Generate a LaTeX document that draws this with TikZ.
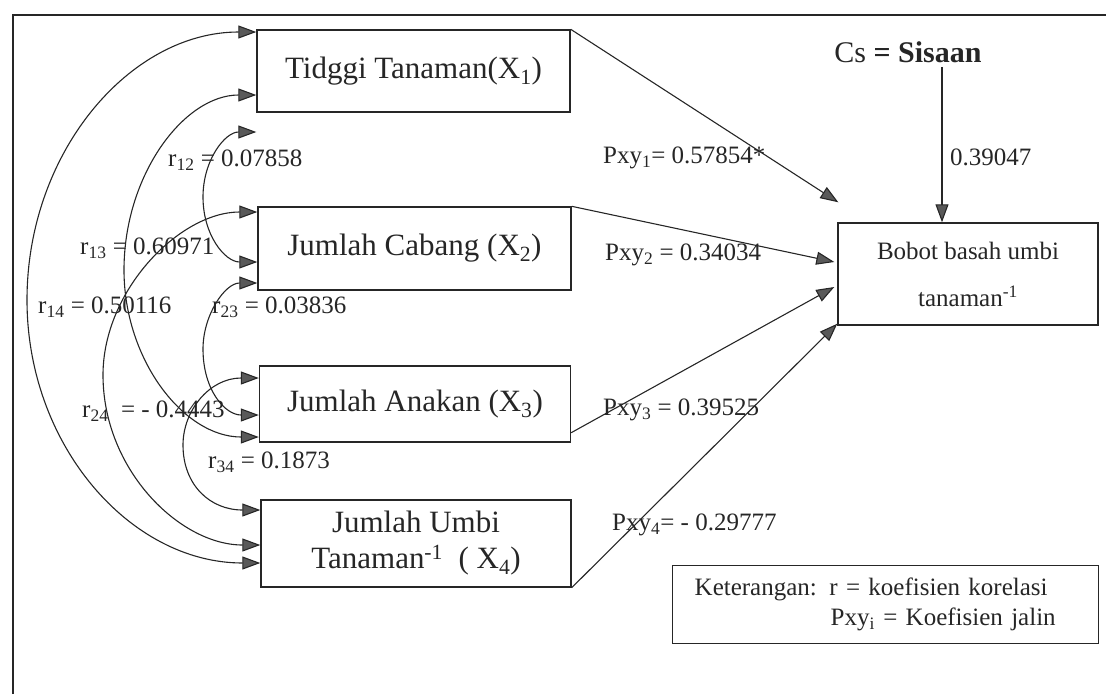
\documentclass[tikz,border=0pt]{standalone}
\usepackage{fontspec}
\setmainfont{Liberation Serif}
\usetikzlibrary{arrows.meta,calc}
\begin{document}
\begin{tikzpicture}[x=1pt,y=-1pt,
  box/.style={draw=black!85, line width=1.4pt, rectangle, inner sep=0pt, font=\fontsize{31}{36}\selectfont, align=center, text=black!85},
  lbl/.style={inner sep=0pt, font=\fontsize{25}{30}\selectfont, anchor=west, text=black!85},
  corr/.style={line width=1.1pt, draw=black!85, {Triangle[length=18pt,width=13pt,fill=black!65]}-{Triangle[length=18pt,width=13pt,fill=black!65]}},
  pathar/.style={line width=1.1pt, draw=black!85, -{Triangle[length=18pt,width=13pt,fill=black!65]}},
  frame/.style={line width=1.8pt, draw=black!85}
]
\useasboundingbox (0,0) rectangle (1106,694);
\draw[frame] (13,694) -- (13,15) -- (1106,15);

% boxes
\node[box, minimum width=313pt, minimum height=82pt] (x1) at (413.5,71) {Tidggi Tanaman(X\textsubscript{1})};
\node[box, minimum width=313pt, minimum height=83pt] (x2) at (414.5,248.5) {Jumlah Cabang (X\textsubscript{2})};
\node[box, minimum width=311pt, minimum height=76pt] (x3) at (415,404) {Jumlah Anakan (X\textsubscript{3})};
\node[box, minimum width=310pt, minimum height=87pt] (x4) at (416,543.5) {Jumlah Umbi\\Tanaman\textsuperscript{-1}\ \ ( X\textsubscript{4})};
\node[box, minimum width=260pt, minimum height=102pt, font=\fontsize{25}{47}\selectfont] (y) at (968,274) {Bobot basah umbi\\tanaman\textsuperscript{-1}};

% residual
\node[inner sep=0pt, font=\fontsize{30}{36}\selectfont, text=black!85] (cs) at (908,52) {Cs \textbf{= Sisaan}};
\coordinate (csa) at ([xshift=34pt,yshift=-4pt]cs.south);
\draw[pathar] (csa) -- (csa |- y.north);
\node[lbl] (l0) at (950,157) {0.39047};

% path arrows
\draw[pathar] (x1.north east) -- ([xshift=1pt,yshift=20pt]y.north west);
\draw[pathar] (x2.north east) -- ([xshift=-3pt,yshift=12pt]y.west);
\draw[pathar] ([yshift=10pt]x3.south east) -- ([xshift=-3pt,yshift=-13pt]y.west);
\draw[pathar] (x4.south east) -- ([yshift=2pt]y.south west);

\node[lbl] (p1) at (603,158) {Pxy\textsubscript{1}= 0.57854*};
\node[lbl] (p2) at (605,255) {Pxy\textsubscript{2} = 0.34034};
\node[lbl] (p3) at (603,410) {Pxy\textsubscript{3} = 0.39525};
\node[lbl] (p4) at (612,525) {Pxy\textsubscript{4}= - 0.29777};

% correlation arcs
\coordinate (a14) at ([yshift=39pt]x1.west);
\coordinate (b14) at ([yshift=-19.5pt]x4.west);
\coordinate (a13) at ([yshift=-24pt]x1.west);
\coordinate (b13) at ([yshift=-33pt]x3.west);
\coordinate (a12) at ([yshift=-61pt]x1.west);
\coordinate (b12) at ([yshift=-13.5pt]x2.west);
\coordinate (a24) at ([yshift=36.5pt]x2.west);
\coordinate (b24) at ([yshift=-1.5pt]x4.west);
\coordinate (a23) at ([yshift=-34.5pt]x2.west);
\coordinate (b23) at ([yshift=-11pt]x3.west);
\coordinate (a34) at ([yshift=26pt]x3.west);
\coordinate (b34) at ([yshift=33.5pt]x4.west);

\draw[corr] (a14) .. controls (130,32) and (27,152) .. (27,300) .. controls (27,445) and (130,563) .. (b14);
\draw[corr] (a13) .. controls (184,95) and (124,175) .. (124,270) .. controls (124,360) and (184,437) .. (b13);
\draw[corr] (a24) .. controls (180,212) and (103,290) .. (103,375) .. controls (103,470) and (180,545) .. (b24);
\draw[corr] (a12) .. controls (225,132) and (203,160) .. (203,197) .. controls (203,235) and (225,262) .. (b12);
\draw[corr] (a23) .. controls (225,283) and (203,315) .. (203,349) .. controls (203,390) and (225,415) .. (b23);
\draw[corr] (a34) .. controls (210,378) and (183,410) .. (183,445) .. controls (183,485) and (210,510) .. (b34);

\node[lbl] (r12) at (168,160) {r\textsubscript{12} = 0.07858};
\node[lbl] (r13) at (80,248) {r\textsubscript{13} = 0.60971};
\node[lbl] (r14) at (38,307) {r\textsubscript{14} = 0.50116};
\node[lbl] (r23) at (212,307) {r\textsubscript{23} = 0.03836};
\node[lbl] (r24) at (82,411) {r\textsubscript{24} \ = - 0.4443};
\node[lbl] (r34) at (208,462) {r\textsubscript{34} = 0.1873};

% legend
\node[draw=black!85, line width=1.4pt, anchor=north west, minimum width=426pt, minimum height=78pt, text width=382pt, inner xsep=22pt, inner ysep=0pt, align=left, font=\fontsize{25}{30}\selectfont, text=black!85] (leg) at (672,565) {Keterangan: r = koefisien korelasi\\\hspace*{136pt}Pxy\textsubscript{i} = Koefisien jalin};
\end{tikzpicture}
\end{document}
